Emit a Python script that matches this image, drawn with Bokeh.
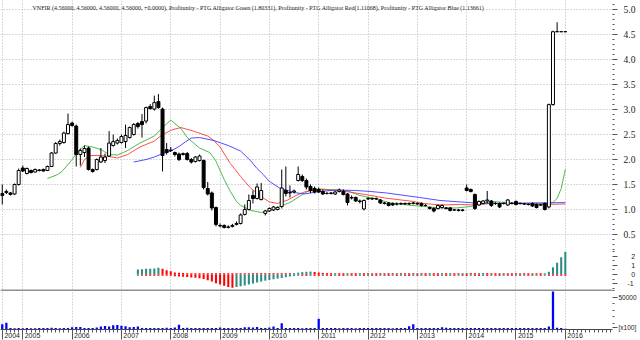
from bokeh.plotting import figure
from bokeh.models import Range1d, FixedTicker, Span, Label, ColumnDataSource, NumeralTickFormatter
from bokeh.layouts import column
from bokeh.embed import file_html
from bokeh.resources import INLINE

title_text = ("VNFIR (4.56000, 4.56000, 4.56000, 4.56000, +0.0000), Profitunity - PTG Alligator Green (1.80331), "
              "Profitunity - PTG Alligator Red(1.11068), Profitunity - PTG Alligator Blue (1.13661)")

# month index: 0 = Jan 2004; first bar = Aug 2004 (7), last bar = Jan 2016 (144)
first_month = 7
years = ["2004", "2005", "2006", "2007", "2008", "2009", "2010", "2011", "2012", "2013", "2014", "2015", "2016"]
year_pos = [7, 12, 24, 36, 48, 60, 72, 84, 96, 108, 120, 132, 144]
price_ticks = [0.5, 1.0, 1.5, 2.0, 2.5, 3.0, 3.5, 4.0, 4.5, 5.0]
gator_ticks = [-1, 0, 1, 2]
volume_ticks = [3000, 50000]
volume_tick_labels = ["[x100]", "50000"]

opens = [1.32, 1.34, 1.33, 1.31, 1.50, 1.83, 1.72, 1.78, 1.75, 1.79,
         1.80, 1.78, 1.86, 2.13, 2.32, 2.34, 2.52, 2.73, 2.67, 2.10,
         2.14, 2.23, 1.80, 1.80, 1.95, 1.98, 2.07, 2.28, 2.33, 2.34,
         2.36, 2.44, 2.50, 2.72, 2.76, 2.77, 3.06, 3.01, 3.16, 3.01,
         2.20, 2.19, 2.14, 2.11, 2.10, 2.12, 2.00, 1.96, 1.98, 1.98,
         1.42, 1.33, 1.04, 0.68, 0.68, 0.64, 0.66, 0.70, 0.72, 0.90,
         1.00, 1.28, 1.22, 1.20, 0.92, 0.97, 0.99, 1.00, 1.06, 1.38,
         1.33, 1.35, 1.58, 1.66, 1.58, 1.46, 1.42, 1.40, 1.36, 1.32,
         1.32, 1.31, 1.36, 1.36, 1.31, 1.24, 1.24, 1.17, 1.01, 1.21,
         1.22, 1.21, 1.19, 1.13, 1.13, 1.12, 1.11, 1.11, 1.12, 1.11,
         1.12, 1.12, 1.12, 1.08, 1.04, 1.02, 1.02, 1.04, 1.03, 1.03,
         0.99, 0.99, 0.98, 1.43, 1.40, 1.30, 1.09, 1.12, 1.17, 1.17,
         1.12, 1.12, 1.12, 1.09, 1.12, 1.16, 1.12, 1.11, 1.10, 1.12,
         1.10, 1.09, 1.12, 1.05, 3.10, 4.56, 4.56, 4.56]
highs = [1.50, 1.40, 1.35, 1.52, 1.82, 1.88, 1.84, 1.80, 1.82, 1.81,
         1.82, 1.88, 2.15, 2.35, 2.40, 2.56, 2.92, 2.76, 2.70, 2.22,
         2.28, 2.26, 1.82, 2.02, 2.23, 2.12, 2.57, 2.50, 2.42, 2.50,
         2.70, 2.66, 2.73, 2.75, 2.91, 3.06, 3.11, 3.28, 3.31, 3.04,
         2.33, 2.25, 2.16, 2.14, 2.14, 2.15, 2.03, 2.07, 2.10, 2.00,
         1.55, 1.36, 1.06, 0.72, 0.70, 0.68, 0.71, 0.76, 0.92, 1.10,
         1.30, 1.38, 1.52, 1.53, 0.99, 1.04, 1.07, 1.06, 1.80, 1.86,
         1.48, 1.40, 1.86, 1.70, 1.62, 1.50, 1.46, 1.44, 1.40, 1.35,
         1.35, 1.37, 1.42, 1.40, 1.33, 1.28, 1.26, 1.20, 1.20, 1.25,
         1.24, 1.24, 1.21, 1.15, 1.15, 1.14, 1.14, 1.14, 1.14, 1.14,
         1.15, 1.14, 1.14, 1.11, 1.06, 1.04, 1.10, 1.10, 1.05, 1.05,
         1.01, 1.01, 1.01, 1.50, 1.42, 1.32, 1.18, 1.19, 1.37, 1.19,
         1.15, 1.14, 1.14, 1.21, 1.15, 1.18, 1.14, 1.13, 1.12, 1.14,
         1.12, 1.11, 1.14, 3.12, 4.58, 4.75, 4.56, 4.56]
lows = [1.10, 1.31, 1.28, 1.29, 1.48, 1.75, 1.70, 1.72, 1.74, 1.76,
        1.76, 1.77, 1.85, 2.12, 2.28, 2.32, 2.50, 2.66, 1.86, 1.88,
        2.05, 1.78, 1.74, 1.78, 1.93, 1.93, 2.05, 2.26, 2.30, 2.32,
        2.23, 2.42, 2.48, 2.62, 2.44, 2.72, 3.00, 2.98, 3.02, 1.76,
        2.10, 2.15, 2.06, 1.97, 2.08, 1.98, 1.92, 1.94, 1.96, 1.40,
        1.28, 0.98, 0.66, 0.64, 0.62, 0.62, 0.64, 0.68, 0.70, 0.88,
        0.98, 1.12, 1.20, 1.18, 0.88, 0.95, 0.97, 0.98, 1.02, 1.26,
        1.24, 1.32, 1.56, 1.55, 1.40, 1.33, 1.32, 1.33, 1.29, 1.30,
        1.30, 1.29, 1.34, 1.28, 1.08, 1.20, 1.15, 1.12, 0.98, 1.19,
        1.19, 1.19, 1.11, 1.10, 1.06, 1.07, 1.08, 1.09, 1.09, 1.09,
        1.10, 1.09, 1.06, 1.06, 1.00, 0.94, 1.00, 1.02, 1.00, 0.96,
        0.97, 0.96, 0.96, 1.36, 1.34, 0.99, 1.07, 1.10, 1.12, 1.05,
        1.09, 1.03, 1.10, 1.07, 1.10, 1.08, 1.10, 1.09, 1.08, 1.05,
        1.02, 1.07, 0.98, 1.02, 3.08, 4.56, 4.56, 4.56]
closes = [1.28, 1.36, 1.30, 1.50, 1.78, 1.77, 1.82, 1.74, 1.80, 1.78,
          1.77, 1.86, 2.13, 2.32, 2.36, 2.53, 2.70, 2.68, 2.10, 2.18,
          2.22, 1.80, 1.76, 2.00, 2.05, 2.05, 2.33, 2.36, 2.38, 2.46,
          2.48, 2.64, 2.70, 2.66, 2.70, 3.04, 3.02, 3.14, 3.04, 2.08,
          2.14, 2.18, 2.10, 2.00, 2.12, 2.00, 1.95, 2.05, 2.07, 1.44,
          1.31, 1.03, 0.70, 0.67, 0.64, 0.65, 0.68, 0.72, 0.89, 1.00,
          1.18, 1.22, 1.45, 1.38, 0.97, 1.02, 1.05, 1.04, 1.43, 1.32,
          1.34, 1.37, 1.70, 1.58, 1.45, 1.38, 1.35, 1.35, 1.31, 1.32,
          1.33, 1.35, 1.39, 1.30, 1.14, 1.23, 1.17, 1.16, 1.18, 1.22,
          1.21, 1.22, 1.13, 1.12, 1.08, 1.09, 1.11, 1.12, 1.11, 1.12,
          1.13, 1.11, 1.08, 1.08, 1.02, 0.97, 1.08, 1.08, 1.02, 0.98,
          0.99, 0.98, 0.99, 1.38, 1.36, 1.02, 1.16, 1.17, 1.19, 1.08,
          1.12, 1.05, 1.12, 1.19, 1.12, 1.10, 1.12, 1.11, 1.10, 1.07,
          1.04, 1.09, 1.00, 3.10, 4.56, 4.56, 4.56, 4.56]
volume = [8000, 10500, 2500, 2000, 2200, 2000, 2500, 2000, 2000, 2300,
          2200, 2500, 2800, 2500, 2000, 2300, 2500, 3500, 4000, 3800,
          2500, 2200, 2500, 3000, 4500, 5500, 4500, 6500, 7000, 6000,
          5000, 3500, 3800, 4500, 2500, 2300, 2500, 2300, 2500, 2500,
          2800, 2300, 3000, 7500, 2300, 2800, 2500, 2500, 2300, 2500,
          2200, 2200, 2500, 3000, 2500, 2300, 2200, 2300, 2500, 3500,
          3500, 3200, 4000, 2500, 2300, 3000, 4500, 2500, 9500, 2500,
          2200, 2300, 2200, 2000, 2300, 2200, 2500, 16500, 2500, 2300,
          2200, 2300, 2000, 2200, 2300, 2200, 2000, 2200, 2500, 2200,
          2300, 2500, 2200, 2300, 2200, 2000, 2300, 2200, 2500, 5000,
          8000, 2500, 2300, 2200, 2500, 2300, 2500, 3500, 2800, 2500,
          2300, 2200, 2500, 2300, 2200, 2500, 2300, 2200, 2300, 2200,
          2500, 2200, 2300, 2500, 2200, 2300, 2200, 2500, 2300, 2200,
          2500, 2300, 2300, 4500, 59000, 2800, 2500, 1200]

gator_first = 40
gator_up = [0.55, 0.58, 0.62, 0.64, 0.66, 0.73, 0.62, 0.48, 0.35, 0.22,
            0.18, 0.16, 0.15, 0.15, 0.14, 0.14, 0.14, 0.14, 0.14, 0.14,
            0.14, 0.14, 0.14, 0.14, 0.14, 0.14, 0.14, 0.14, 0.14, 0.14,
            0.14, 0.14, 0.14, 0.14, 0.14, 0.14, 0.14, 0.14, 0.15, 0.20,
            0.26, 0.30, 0.32, 0.28, 0.22, 0.18, 0.15, 0.14, 0.15, 0.14,
            0.14, 0.15, 0.14, 0.14, 0.15, 0.14, 0.14, 0.15, 0.14, 0.14,
            0.15, 0.14, 0.14, 0.15, 0.14, 0.15, 0.14, 0.14, 0.15, 0.14,
            0.14, 0.15, 0.14, 0.14, 0.15, 0.14, 0.15, 0.14, 0.14, 0.15,
            0.16, 0.15, 0.14, 0.15, 0.16, 0.15, 0.14, 0.14, 0.15, 0.14,
            0.15, 0.14, 0.14, 0.15, 0.14, 0.14, 0.15, 0.14, 0.14, 0.15,
            0.30, 0.80, 1.30, 1.90, 2.50]
gator_down = [-0.14, -0.14, -0.14, -0.14, -0.14, -0.14, -0.14, -0.14, -0.15, -0.18,
              -0.22, -0.25, -0.28, -0.32, -0.36, -0.42, -0.50, -0.62, -0.78, -0.95,
              -1.10, -1.25, -1.38, -1.45, -1.38, -1.30, -1.20, -1.10, -0.98, -0.88,
              -0.78, -0.68, -0.60, -0.52, -0.45, -0.38, -0.30, -0.22, -0.16, -0.14,
              -0.14, -0.15, -0.14, -0.14, -0.15, -0.14, -0.14, -0.15, -0.14, -0.14,
              -0.15, -0.14, -0.14, -0.15, -0.14, -0.15, -0.14, -0.14, -0.15, -0.14,
              -0.14, -0.15, -0.14, -0.15, -0.14, -0.14, -0.15, -0.14, -0.15, -0.14,
              -0.15, -0.14, -0.14, -0.15, -0.14, -0.15, -0.14, -0.15, -0.14, -0.14,
              -0.15, -0.14, -0.14, -0.15, -0.14, -0.15, -0.14, -0.14, -0.15, -0.14,
              -0.14, -0.15, -0.14, -0.15, -0.14, -0.14, -0.15, -0.14, -0.15, -0.14,
              -0.14, -0.14, -0.14, -0.14, -0.14]

green_pos = [18, 20.5, 21.5, 23, 24, 25.5, 27, 29, 31, 33, 35, 37.5, 40.5, 44, 46, 48, 50.5, 52, 55, 57.5,
             59, 60, 61, 62.5, 64, 65, 67.5, 70, 72, 74.5, 77, 79.5, 82, 84.5, 88, 91, 94, 97.5, 101.5,
             105.5, 109.5, 113.5, 117.5, 121, 123.5, 126, 129.5, 133, 137, 140, 141, 142, 143, 144]
green_val = [1.62, 1.70, 1.76, 1.90, 2.00, 2.17, 2.28, 2.25, 2.20, 2.10, 2.09, 2.18, 2.33, 2.47, 2.64, 2.79, 2.62,
             2.44, 2.23, 2.14, 1.97, 1.78, 1.60, 1.36, 1.16, 1.08, 0.98, 0.94, 0.97, 1.06, 1.14, 1.27, 1.40,
             1.41, 1.39, 1.37, 1.28, 1.22, 1.13, 1.09, 1.06, 1.03, 1.03, 1.06, 1.12, 1.16, 1.14, 1.12, 1.11,
             1.12, 1.14, 1.22, 1.42, 1.80331]
red_pos = [26, 27, 28.5, 31, 33, 35, 37.5, 40.5, 44, 46, 48.5, 50.5, 53.5, 57, 58.5, 60, 62.5, 65, 67.5, 69,
           70.5, 72, 74, 76.5, 78.5, 80.5, 84, 88, 91.5, 96, 100, 104, 107, 109.5, 113.5, 118.5, 122, 126,
           130.5, 135.5, 140, 144]
red_val = [1.84, 2.00, 2.08, 2.08, 2.06, 2.03, 2.10, 2.25, 2.37, 2.50, 2.60, 2.64, 2.57, 2.47, 2.38, 2.25, 1.92,
           1.66, 1.42, 1.33, 1.23, 1.15, 1.12, 1.19, 1.28, 1.35, 1.40, 1.38, 1.35, 1.29, 1.23, 1.19, 1.16, 1.12,
           1.09, 1.10, 1.09, 1.12, 1.12, 1.11, 1.10, 1.11068]
blue_pos = [39, 42, 44, 46, 48, 50, 51.5, 53, 55, 58.5, 62, 65, 67.5, 69, 70.5, 72, 74.5, 78, 80.5, 83.5, 88,
            93, 96.5, 100.5, 104, 108.5, 113.5, 118.5, 122, 127.5, 135.5, 144]
blue_val = [1.95, 2.00, 2.05, 2.12, 2.17, 2.26, 2.35, 2.43, 2.44, 2.38, 2.28, 2.17, 1.97, 1.82, 1.70, 1.56, 1.43,
            1.34, 1.31, 1.35, 1.39, 1.38, 1.36, 1.33, 1.29, 1.24, 1.18, 1.15, 1.13, 1.12, 1.13, 1.13661]

# ---------------- layout / styling ----------------
FRAME_W = 612
x_range = Range1d(6.574, 155.48)
GRID_COLOR = "#b4b4b4"
year_ticker = FixedTicker(ticks=year_pos, minor_ticks=list(range(first_month, 156)))


def make_fig(h, y_range, with_xaxis=False):
    p = figure(frame_width=FRAME_W, frame_height=h, x_range=x_range, y_range=y_range,
               output_backend="svg", toolbar_location=None,
               x_axis_location="below" if with_xaxis else None, y_axis_location="right",
               min_border_left=0, min_border_right=0, min_border_top=0, min_border_bottom=0)
    p.outline_line_color = None
    p.background_fill_color = "white"
    p.border_fill_color = "white"
    p.xgrid.ticker = year_ticker
    p.xgrid.grid_line_color = GRID_COLOR
    p.xgrid.grid_line_dash = "1 2"
    p.ygrid.visible = False
    ax = p.yaxis[0]
    ax.axis_line_color = None
    ax.major_tick_in = 0
    ax.minor_tick_in = 0
    ax.major_tick_out = 5
    ax.minor_tick_out = 2
    ax.major_tick_line_color = "#555555"
    ax.minor_tick_line_color = "#555555"
    ax.major_label_text_color = "#222222"
    return p


# main price panel
p1 = make_fig(250, Range1d(0.178, 5.185))
p1.ygrid.visible = True
p1.ygrid.ticker = FixedTicker(ticks=price_ticks)
p1.ygrid.grid_line_color = GRID_COLOR
p1.ygrid.grid_line_dash = "1 2"
p1.yaxis.ticker = FixedTicker(ticks=price_ticks, minor_ticks=[round(0.2 + 0.1 * k, 1) for k in range(50)])
p1.yaxis.formatter = NumeralTickFormatter(format="0.0")
p1.yaxis.major_label_text_font = "Liberation Serif"
p1.yaxis.major_label_text_font_size = "9.5px"
p1.yaxis.major_label_standoff = 6

xs = [first_month + i for i in range(len(opens))]
src = ColumnDataSource(dict(
    x=xs, high=highs, low=lows,
    top=[max(o, c) for o, c in zip(opens, closes)],
    bottom=[min(o, c) for o, c in zip(opens, closes)],
    fill=["white" if c >= o else "black" for o, c in zip(opens, closes)],
))
p1.line(green_pos, green_val, line_color="#2fae2f", line_width=1, line_alpha=0.85)
p1.line(red_pos, red_val, line_color="#ff3030", line_width=1, line_alpha=0.85)
p1.line(blue_pos, blue_val, line_color="#3030ff", line_width=1, line_alpha=0.85)
p1.segment(x0="x", y0="low", x1="x", y1="high", source=src, line_color="black", line_width=1)
p1.vbar(x="x", width=0.72, top="top", bottom="bottom", source=src,
        fill_color="fill", line_color="black", line_width=1)
p1.add_layout(Label(x=32, y=243, x_units="screen", y_units="screen", text=title_text,
                    text_font="Liberation Serif", text_font_size="6px", text_baseline="middle",
                    text_color="#222222"))

# gator oscillator panel
p2 = make_fig(39, Range1d(-1.65, 2.64))
p2.yaxis.ticker = FixedTicker(ticks=gator_ticks, minor_ticks=[-1.5, -0.5, 0.5, 1.5, 2.5])
p2.yaxis.major_label_overrides = {2: "\u00a0\u00a0\u00a0\u00a02", 1: "\u00a0\u00a0\u00a0\u00a01",
                                  0: "\u00a0\u00a0\u00a0\u00a00", -1: "\u00a0\u00a0-1"}
p2.yaxis.major_label_text_font = "Liberation Sans"
p2.yaxis.major_label_text_font_size = "7px"
p2.yaxis.major_label_standoff = 6
TEAL, RED = "#2e8b86", "#ff0000"
gx = [gator_first + i for i in range(len(gator_up))]
up_col = [TEAL if i == 0 or gator_up[i] > gator_up[i - 1] else RED for i in range(len(gator_up))]
dn_col = [TEAL if i == 0 or gator_down[i] > gator_down[i - 1] else RED for i in range(len(gator_down))]
p2.vbar(x=gx, width=0.5, top=gator_up, bottom=0, fill_color=up_col, line_color=None)
p2.vbar(x=gx, width=0.5, top=0, bottom=gator_down, fill_color=dn_col, line_color=None)

# volume panel
p3 = make_fig(40, Range1d(0, 62000), with_xaxis=True)
p3.yaxis.ticker = FixedTicker(ticks=volume_ticks, minor_ticks=[10000, 20000, 30000, 40000, 60000])
p3.yaxis.major_label_overrides = {t: s for t, s in zip(volume_ticks, volume_tick_labels)}
p3.yaxis.major_label_text_font = "Liberation Sans"
p3.yaxis.major_label_text_font_size = "6.5px"
p3.yaxis.major_label_standoff = 1
p3.vbar(x=xs, width=0.55, top=volume, bottom=0, fill_color="#0000ff", line_color=None)
p3.add_layout(Span(location=61300, dimension="width", line_color="#8f8f8f", line_width=2))
xa = p3.xaxis[0]
xa.ticker = year_ticker
xa.major_label_overrides = {pos: ("\u00a0" * 2 if i == 0 else "\u00a0" * 10) + yr
                            for i, (pos, yr) in enumerate(zip(year_pos, years))}
xa.axis_line_color = "#444444"
xa.major_tick_in = 0
xa.major_tick_out = 10
xa.minor_tick_in = 0
xa.minor_tick_out = 3
xa.major_tick_line_color = "#555555"
xa.minor_tick_line_color = "#555555"
xa.major_label_standoff = -8
xa.major_label_text_font = "Liberation Sans"
xa.major_label_text_font_size = "7px"
xa.major_label_text_color = "#222222"

layout = column(p1, p2, p3, spacing=0)
open("out.html", "w").write(file_html(layout, INLINE))
